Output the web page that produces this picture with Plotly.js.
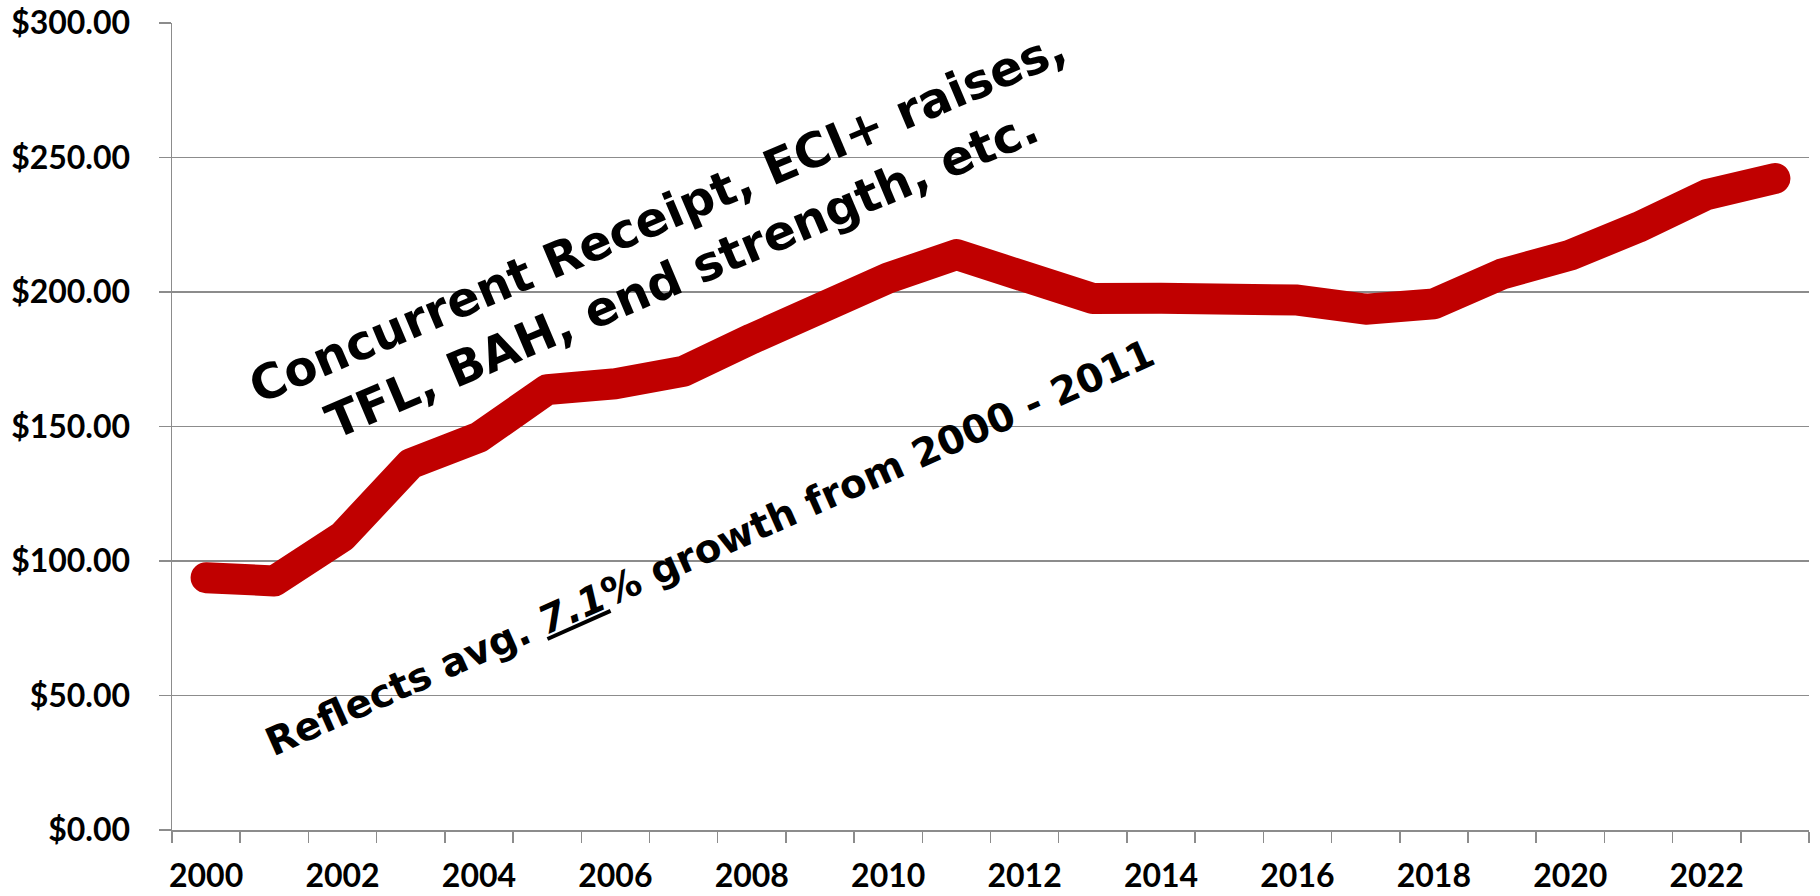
<!DOCTYPE html>
<html>
<head>
<meta charset="utf-8">
<script src="https://cdn.plot.ly/plotly-3.0.1.min.js"></script>
<style>
  html, body { margin: 0; padding: 0; background: #fff; }
  #chart { width: 1820px; height: 896px; }
  .scatterlayer path.js-line { stroke-linecap: round; stroke-linejoin: round; }
</style>
</head>
<body>
<div id="chart"></div>
<script>
// Fiscal years (categories)
const years = [2000, 2001, 2002, 2003, 2004, 2005, 2006, 2007, 2008, 2009, 2010, 2011,
               2012, 2013, 2014, 2015, 2016, 2017, 2018, 2019, 2020, 2021, 2022, 2023];
// Values in $
const spending = [93.8, 92.6, 109.1, 136.2, 146.0, 163.7, 165.9, 170.5, 182.6, 194.7, 205.2, 213.9,
                  205.5, 197.6, 197.7, 197.3, 197.0, 193.6, 195.6, 206.7, 213.7, 224.1, 236.2, 242.2];
// Labelled x ticks
const xTickVals = [2000, 2002, 2004, 2006, 2008, 2010, 2012, 2014, 2016, 2018, 2020, 2022];
const xTickText = ["2000", "2002", "2004", "2006", "2008", "2010", "2012", "2014", "2016", "2018", "2020", "2022"];
// Tick marks between categories
const xBoundaries = years.map(y => y - 0.5).concat([years[years.length - 1] + 0.5]);

const note1 = "Concurrent Receipt, ECI+ raises,<br>TFL, BAH, end strength, etc.";
const note2 = "Reflects avg. <i><u>7.1</u></i>% growth from 2000 - 2011";

const axisGray = "#8c8c8c";
const tickFont = { family: "Lato, 'Open Sans', sans-serif", size: 32, color: "#000", weight: "bold" };

const trace = {
  type: "scatter",
  mode: "lines",
  x: years,
  y: spending,
  line: { color: "#C00000", width: 31 },
  hoverinfo: "skip"
};

const layout = {
  width: 1820,
  height: 896,
  margin: { l: 172, r: 11, t: 23, b: 66, pad: 0 },
  paper_bgcolor: "#fff",
  plot_bgcolor: "#fff",
  showlegend: false,
  xaxis: {
    type: "linear",
    range: [1999.5, 2023.5],
    tickmode: "array",
    tickvals: xTickVals,
    ticktext: xTickText,
    ticks: "",
    ticklabelstandoff: 17,
    tickfont: tickFont,
    showgrid: false,
    zeroline: false,
    showline: true,
    linecolor: axisGray,
    linewidth: 1.5,
    minor: {
      tickmode: "array",
      tickvals: xBoundaries,
      ticks: "outside",
      ticklen: 11,
      tickwidth: 1.5,
      tickcolor: axisGray,
      showgrid: false
    },
    fixedrange: true
  },
  yaxis: {
    range: [0, 300],
    tick0: 0,
    dtick: 50,
    tickprefix: "$",
    tickformat: ".2f",
    ticks: "outside",
    ticklen: 12,
    tickwidth: 1.5,
    tickcolor: axisGray,
    ticklabelstandoff: 22,
    tickfont: tickFont,
    showgrid: true,
    gridcolor: axisGray,
    gridwidth: 1.5,
    zeroline: false,
    showline: true,
    linecolor: axisGray,
    linewidth: 1.5,
    fixedrange: true
  },
  annotations: [
    {
      xref: "paper", yref: "paper",
      x: 0.304, y: 0.725,
      xanchor: "center", yanchor: "middle",
      text: note1,
      showarrow: false,
      textangle: -23,
      align: "center",
      font: { family: "'DejaVu Sans', Verdana, sans-serif", size: 48, color: "#000", weight: "bold" }
    },
    {
      xref: "paper", yref: "paper",
      x: 0.3287, y: 0.3496,
      xanchor: "center", yanchor: "middle",
      text: note2,
      showarrow: false,
      textangle: -24,
      align: "center",
      font: { family: "'DejaVu Sans', Verdana, sans-serif", size: 39, color: "#000", weight: "bold" }
    }
  ]
};

Plotly.newPlot("chart", [trace], layout, { displayModeBar: false, staticPlot: true });
</script>
</body>
</html>
